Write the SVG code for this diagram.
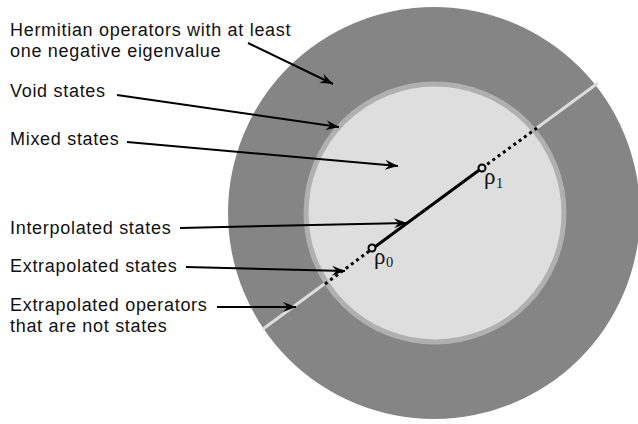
<svg xmlns="http://www.w3.org/2000/svg" width="638" height="424" viewBox="0 0 638 424">
<style>
.lbl{font-family:"Liberation Sans",Arial,sans-serif;font-size:18px;letter-spacing:0.7px;fill:#111}
.rho{font-family:"Liberation Serif","DejaVu Serif",serif;font-size:23px;fill:#111}
.sub{font-family:"Liberation Serif","DejaVu Serif",serif;font-size:14.5px;fill:#111}
.arrow{stroke:#000;stroke-width:2;fill:none;marker-end:url(#ah)}
</style>
<defs>
<marker id="ah" viewBox="-14 -6 15 12" refX="0" refY="0" markerWidth="15" markerHeight="12" orient="auto" markerUnits="userSpaceOnUse">
<path d="M0,0 L-13,-5 L-8.5,0 L-13,5 Z" fill="#000"/>
</marker>
</defs>
<rect width="638" height="424" fill="#fff"/>
<g id="outer">
<circle cx="434" cy="213" r="206" fill="#858585"/>
<line x1="263" y1="329" x2="598" y2="83" stroke="#dcdcdc" stroke-width="3"/>
</g>
<g id="inner">
<circle cx="435" cy="213" r="129" fill="#dedede" stroke="#b0b0b0" stroke-width="5"/>
</g>
<g id="segment">
<line x1="325" y1="284" x2="372" y2="249" stroke="#000" stroke-width="3" stroke-dasharray="3 3.5"/>
<line x1="482" y1="168" x2="537" y2="128" stroke="#000" stroke-width="3" stroke-dasharray="3 3.5"/>
<line x1="372" y1="249" x2="482" y2="168" stroke="#000" stroke-width="3"/>
</g>
<g id="rho0">
<circle cx="372" cy="248" r="3.5" fill="#dedede" stroke="#000" stroke-width="2"/>
<text class="rho" x="374" y="264">ρ</text><text class="sub" x="386" y="267">0</text>
</g>
<g id="rho1">
<circle cx="482" cy="168" r="3.5" fill="#dedede" stroke="#000" stroke-width="2"/>
<text class="rho" x="484" y="184">ρ</text><text class="sub" x="496" y="188">1</text>
</g>
<g id="connectors">
<line class="arrow" x1="248" y1="43" x2="333" y2="84"/>
<line class="arrow" x1="117" y1="95" x2="339" y2="127"/>
<line class="arrow" x1="127" y1="142" x2="398" y2="166"/>
<line class="arrow" x1="180" y1="228" x2="407" y2="223"/>
<line class="arrow" x1="186" y1="267" x2="345" y2="271"/>
<line class="arrow" x1="217" y1="307" x2="296" y2="307"/>
</g>
<g id="labels">
<text class="lbl" x="10" y="36">Hermitian operators with at least</text>
<text class="lbl" x="10" y="57">one negative eigenvalue</text>
<text class="lbl" x="10" y="97">Void states</text>
<text class="lbl" x="10" y="145">Mixed states</text>
<text class="lbl" x="10" y="234">Interpolated states</text>
<text class="lbl" x="10" y="272">Extrapolated states</text>
<text class="lbl" x="10" y="311">Extrapolated operators</text>
<text class="lbl" x="10" y="332">that are not states</text>
</g>
</svg>
